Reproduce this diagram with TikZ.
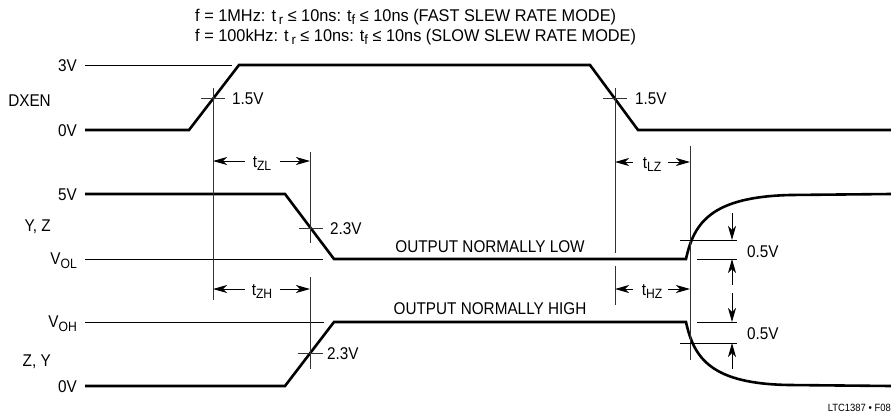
\documentclass[tikz,border=0pt]{standalone}
\usepackage{fontspec}
\setmainfont{Liberation Sans}[FakeStretch=0.9]
\newfontfamily\titlefont{Liberation Sans}[FakeStretch=0.96]
\usetikzlibrary{arrows.meta, positioning, calc}
\definecolor{traceBlack}{HTML}{000000}
\definecolor{guideGray}{HTML}{333333}
\newcommand{\lowidx}[1]{\raisebox{-0.4ex}{\fontsize{13.5}{14}\selectfont #1}}
\tikzset{
  trace/.style={line width=2.6pt, color=traceBlack, line join=miter},
  guide/.style={line width=0.9pt, color=guideGray},
  levelLine/.style={line width=0.9pt, color=traceBlack},
  dimArrow/.style={-{Stealth[length=14pt, width=8pt, inset=4pt]}, line width=1pt, color=traceBlack},
  lvlText/.style={anchor=base east, inner sep=0pt},
  valText/.style={anchor=base west, inner sep=0pt},
  timeText/.style={inner sep=0pt, anchor=base},
}

\begin{document}
\begin{tikzpicture}[font=\fontsize{17}{20}\selectfont]
  \begin{scope}[x=1pt, y=-1pt]
    \useasboundingbox (0,0) rectangle (891,413);
    % test conditions
    \node[valText, font=\titlefont\fontsize{17}{20}\selectfont] (fast) at (195,21)
      {f = 1MHz: t\,\lowidx{r} ≤ 10ns: t\lowidx{f} ≤ 10ns (FAST SLEW RATE MODE)};
    \node[valText, font=\titlefont\fontsize{17}{20}\selectfont] (slow) at (195,41)
      {f = 100kHz: t\,\lowidx{r} ≤ 10ns: t\lowidx{f} ≤ 10ns (SLOW SLEW RATE MODE)};

    % level and signal names
    \node[lvlText] (lv3) at (77,71) {3V};
    \node[lvlText] (dxen) at (51,106) {DXEN};
    \node[lvlText] (lv0a) at (77,136) {0V};
    \node[lvlText] (lv5) at (77,200) {5V};
    \node[lvlText] (yz) at (51,231) {Y, Z};
    \node[lvlText] (vol) at (77,264.5) {V\lowidx{OL}};
    \node[lvlText] (voh) at (77,327.5) {V\lowidx{OH}};
    \node[lvlText] (zy) at (51,366) {Z, Y};
    \node[lvlText] (lv0b) at (77,392) {0V};

    % thin reference levels
    \draw[levelLine] (85,65) -- (232,65);
    \draw[levelLine] (85,259) -- (323,259);
    \draw[levelLine] (85,322) -- (324,322);

    % waveforms
    \draw[trace] (85,130) -- (189,130) -- (239,65) -- (590,65) -- (638,130) -- (891,130);
    \draw[trace] (85,194) -- (285,194) -- (334,259) -- (686,259)
      .. controls (694,222) and (712,197) .. (790,195) -- (891,194);
    \draw[trace] (85,386) -- (285,386) -- (334,322) -- (686,322)
      .. controls (694,359) and (712,384) .. (790,385) -- (891,386);

    % timing guides
    \draw[guide] (213,88) -- (213,300);
    \draw[guide] (310,152) -- (310,243);
    \draw[guide] (310,277) -- (310,369);
    \draw[guide] (615,88) -- (615,253);
    \draw[guide] (615,266) -- (615,305);
    \draw[guide] (690,146) -- (690,360);

    % crossing marks
    \draw[guide] (201,98) -- (225,98);
    \draw[guide] (603,98) -- (627,98);
    \draw[guide] (299,228) -- (323,228);
    \draw[guide] (298,353) -- (323,353);
    \node[valText] (th1) at (232,104) {1.5V};
    \node[valText] (th2) at (635,104.5) {1.5V};
    \node[valText] (th3) at (330,234) {2.3V};
    \node[valText] (th4) at (327,359) {2.3V};

    % delay times
    \node[timeText] (tzl) at (262,167) {t\lowidx{ZL}};
    \node[timeText] (tlz) at (652,168) {t\lowidx{LZ}};
    \node[timeText] (tzh) at (262,295) {t\lowidx{ZH}};
    \node[timeText] (thz) at (652,295) {t\lowidx{HZ}};
    \coordinate (zlL) at (213,161); \coordinate (zlR) at (310,161);
    \coordinate (lzL) at (615,162); \coordinate (lzR) at (690,162);
    \coordinate (zhL) at (213,289); \coordinate (zhR) at (310,289);
    \coordinate (hzL) at (615,289); \coordinate (hzR) at (690,289);
    \coordinate (zlA) at (245,161); \coordinate (zlB) at (280,161);
    \coordinate (lzA) at (633,162); \coordinate (lzB) at (668,162);
    \coordinate (zhA) at (245,289); \coordinate (zhB) at (280,289);
    \coordinate (hzA) at (633,289); \coordinate (hzB) at (668,289);

    % 0.5V offsets
    \draw[levelLine] (680,240) -- (737,240);
    \draw[levelLine] (697,259) -- (737,259);
    \draw[levelLine] (697,322) -- (737,322);
    \draw[levelLine] (680,343) -- (737,343);
    \coordinate (olTop) at (732,213); \coordinate (olHi) at (732,240);
    \coordinate (olBot) at (732,285); \coordinate (olLo) at (732,259);
    \coordinate (ohTop) at (732,293); \coordinate (ohHi) at (732,322);
    \coordinate (ohBot) at (732,369); \coordinate (ohLo) at (732,343);
    \node[valText] (dl1) at (747,257) {0.5V};
    \node[valText] (dl2) at (747,339) {0.5V};

    % output states
    \node[timeText] (lowst) at (490,252.5) {OUTPUT NORMALLY LOW};
    \node[timeText] (highst) at (490,314) {OUTPUT NORMALLY HIGH};

    \node[anchor=base east, inner sep=0pt, font=\fontsize{10.5}{12}\selectfont] (fig) at (891,411) {LTC1387 • F08};
  \end{scope}
  % dimension arrows
  \foreach \from/\to in {zlA/zlL, zlB/zlR, lzA/lzL, lzB/lzR, zhA/zhL, zhB/zhR, hzA/hzL, hzB/hzR,
                         olTop/olHi, olBot/olLo, ohTop/ohHi, ohBot/ohLo}
    \draw[dimArrow] (\from) -- (\to);
\end{tikzpicture}
\end{document}
